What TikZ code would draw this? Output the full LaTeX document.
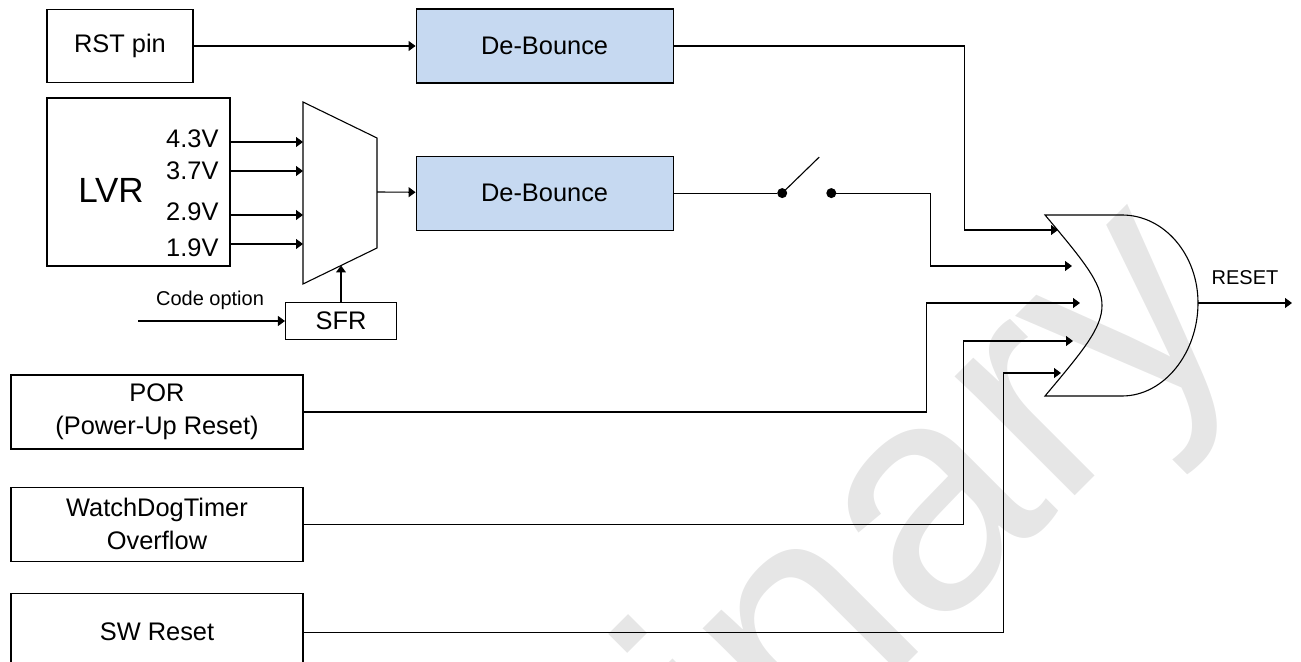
\documentclass[tikz,border=0pt]{standalone}
\usepackage{fontspec}
\setmainfont{Liberation Sans}
\usepackage{xcolor}
\usetikzlibrary{arrows.meta,positioning}
\definecolor{bouncefill}{HTML}{C6D9F1}
\definecolor{markgray}{HTML}{E6E6E6}

\begin{document}
\begin{tikzpicture}[x=0.5pt, y=-0.5pt, line width=0.55pt,
    block/.style={draw, inner sep=0pt, align=center, font=\fontsize{12.7}{16.5}\selectfont},
    bounce/.style={block, fill=bouncefill, minimum width=128.5pt, minimum height=37pt},
    wide/.style={block, minimum width=146pt, minimum height=37pt},
    arr/.style={-{Triangle[length=3.5pt,width=5pt]}},
    dot/.style={circle, fill, inner sep=0pt, minimum size=5pt},
    lbl/.style={inner sep=0pt, font=\fontsize{12.7}{16.5}\selectfont},
    small/.style={inner sep=0pt, font=\fontsize{10}{12}\selectfont}]
    \useasboundingbox (0,0) rectangle (1301,662);
    \clip (0,0) rectangle (1301,662);

    \node (mark) [inner sep=0pt, text=markgray, rotate=45, anchor=base west,
        font=\fontsize{160}{160}\selectfont] at (116,1455) {Preliminary};

    \node (rst) [block, minimum width=73pt, minimum height=36.5pt] at (120,46) {RST pin};
    \node (db1) [bounce, right=111pt of rst] {De-Bounce};
    \node (db2) [bounce, below=36pt of db1] {De-Bounce};
    \draw [arr] (rst) -- (db1);

    \node (lvr) [block, minimum width=91.5pt, minimum height=84pt] at (138.5,182) {};
    \node (lvrname) [inner sep=0pt, font=\fontsize{17.5}{20}\selectfont] at (111,190) {LVR};
    \foreach \v/\y in {4.3V/139, 3.7V/171, 2.9V/212, 1.9V/248}
        \node [lbl, anchor=east] at (219,\y) {\v};

    % selector
    \draw (303,102) -- (377,138) -- (377,248) -- (303,284) -- cycle;
    \foreach \y [count=\i] in {142,171,215,244}
        \coordinate (mux\i) at (303,\y);
    \coordinate (muxout) at (377,192);
    \coordinate (muxsel) at (341,265.5);
    \foreach \i in {1,...,4}
        \draw [arr] (lvr.east |- mux\i) -- (mux\i);
    \draw [arr] (muxout) -- (db2);

    \node (sfr) [block, minimum width=55.5pt, minimum height=18.5pt] at (341,321) {SFR};
    \coordinate (code) at (138,321);
    \node (codelbl) [small] at (210,300) {Code option};
    \draw [arr] (code) -- (sfr);
    \draw [arr] (sfr) -- (muxsel);

    \node (por) [wide] at (157,412) {POR\\(Power-Up Reset)};
    \node (wdt) [wide, below=18.5pt of por] {WatchDogTimer\\Overflow};
    \node (swr) [wide, minimum height=39pt, below=15.5pt of wdt] {SW Reset};

    % switch
    \node (sw1) [dot, right=51.5pt of db2] {};
    \node (sw2) [dot, right=19pt of sw1] {};
    \draw (db2) -- (sw1);
    \draw (sw1.center) -- ++(37,-36);

    % OR gate
    \draw (1045,215) -- (1122,215) .. controls (1164,215) and (1198,254.5) .. (1198,303)
        .. controls (1198,353) and (1164,396) .. (1122,396) -- (1045,396)
        .. controls (1121,305.5) .. (1045,215) -- cycle;
    \coordinate (or1) at (1058,230);
    \coordinate (or2) at (1072,266);
    \coordinate (or3) at (1080,303);
    \coordinate (or4) at (1073,341);
    \coordinate (or5) at (1061,373);
    \coordinate (orout) at (1198,303);
    \coordinate (reset) at (1292,303);

    \draw [arr] (db1.east) -- ++(291,0) |- (or1);
    \draw [arr] (sw2.center) -- ++(99,0) |- (or2);
    \draw [arr] (por.east) -- ++(623,0) |- (or3);
    \draw [arr] (wdt.east) -- ++(660,0) |- (or4);
    \draw [arr] (swr.east) -- ++(700,0) |- (or5);
    \draw [arr] (orout) -- (reset);
    \node (resetlbl) [small] at (1245,278) {RESET};

\end{tikzpicture}
\end{document}
